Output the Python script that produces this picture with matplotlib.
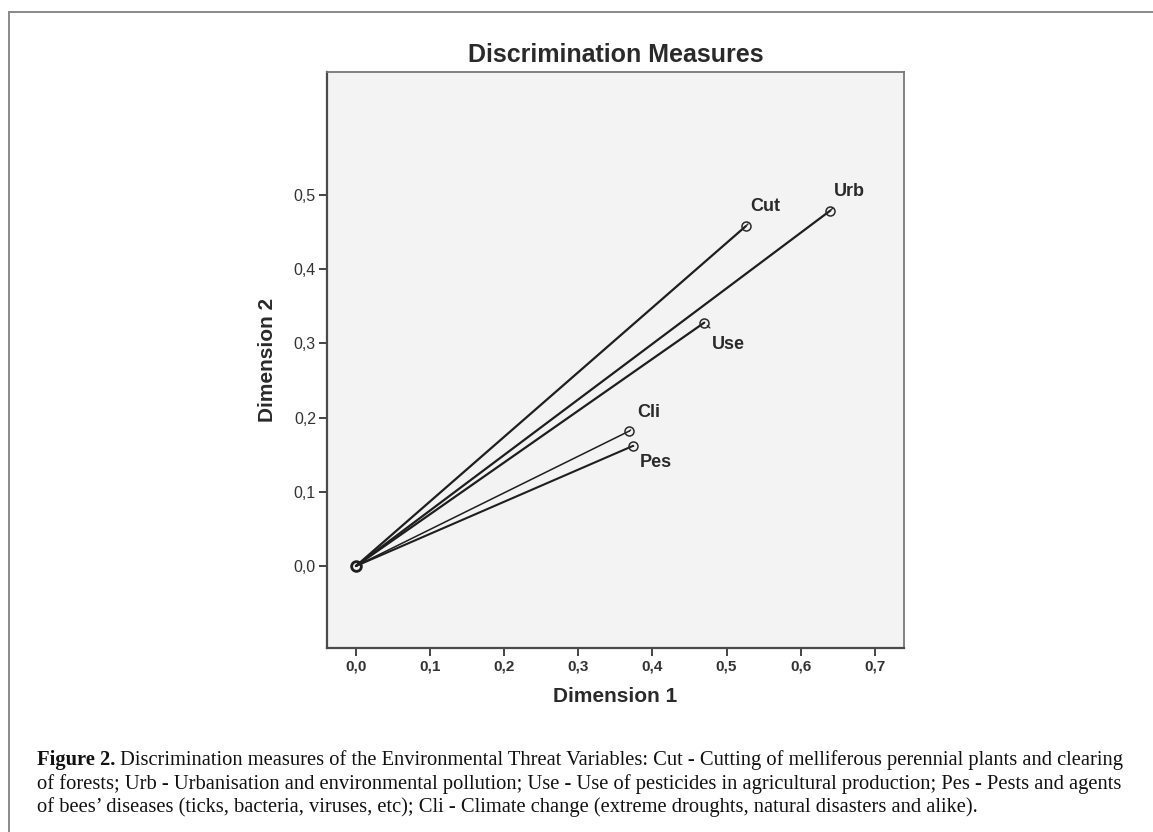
import matplotlib
matplotlib.use("Agg")
import matplotlib.pyplot as plt
from matplotlib.lines import Line2D

# ---- data ----
labels = ["Cut", "Urb", "Use", "Cli", "Pes"]
dim1 = [0.526, 0.640, 0.470, 0.369, 0.374]
dim2 = [0.458, 0.479, 0.328, 0.182, 0.162]
line_widths = [1.6, 1.6, 1.6, 1.1, 1.5]
label_offsets = [(14, 14), (14, 14), (17, -16), (14, 13), (16, -12)]
xticks = [0.0, 0.1, 0.2, 0.3, 0.4, 0.5, 0.6, 0.7]
yticks = [0.0, 0.1, 0.2, 0.3, 0.4, 0.5]
title = "Discrimination Measures"
xlabel = "Dimension 1"
ylabel = "Dimension 2"
caption_bold = "Figure 2."
caption_lines = [
    " Discrimination measures of the Environmental Threat Variables: Cut - Cutting of melliferous perennial plants and clearing",
    "of forests; Urb - Urbanisation and environmental pollution; Use - Use of pesticides in agricultural production; Pes - Pests and agents",
    "of bees\u2019 diseases (ticks, bacteria, viruses, etc); Cli - Climate change (extreme droughts, natural disasters and alike).",
]

W, H = 1153, 832
fig = plt.figure(figsize=(W / 100, H / 100), dpi=100)
fig.patch.set_facecolor("white")

sans = ["Liberation Sans", "DejaVu Sans"]
serif = ["Liberation Serif", "DejaVu Serif"]

# outer frame (top and left edges)
fig.add_artist(Line2D([9 / W, 1.0], [1 - 12 / H, 1 - 12 / H], color="#8a8a8a", lw=1.4))
fig.add_artist(Line2D([9 / W, 9 / W], [1 - 12 / H, 0.0], color="#8a8a8a", lw=1.4))

ax = fig.add_axes([327 / W, 1 - 648 / H, (904 - 327) / W, (648 - 72) / H])
ax.set_facecolor("#f3f3f3")
ax.set_xlim(-0.0391, 0.7395)
ax.set_ylim(-0.1105, 0.6658)

for x, y, lw in zip(dim1, dim2, line_widths):
    ax.plot([0, x], [0, y], color="#1e1e1e", lw=lw, solid_capstyle="round", zorder=2)
    ax.plot([x], [y], marker="o", ms=6.5, mfc="none", mec="#2a2a2a", mew=1.1, zorder=3)
ax.plot([0], [0], marker="o", ms=7, mfc="none", mec="#1e1e1e", mew=2.0, zorder=3)

for lab, x, y, (dx, dy) in zip(labels, dim1, dim2, label_offsets):
    ax.annotate(lab, xy=(x, y), xytext=(dx, dy), textcoords="offset points",
                ha="center", va="center", fontsize=13, fontweight="bold",
                family=sans, color="#2a2a2a",
                arrowprops=dict(arrowstyle="-", color="#2a2a2a", lw=1.0,
                                shrinkA=6, shrinkB=3))

ax.set_xticks(xticks)
ax.set_xticklabels([f"{v:.1f}".replace(".", ",") for v in xticks],
                   fontsize=11, fontweight="bold", family=sans, color="#333333")
ax.set_yticks(yticks)
ax.set_yticklabels([f"{v:.1f}".replace(".", ",") for v in yticks],
                   fontsize=11.5, family=sans, color="#333333")
ax.tick_params(axis="both", direction="out", length=6, width=1.4, color="#444444", pad=2)

for side, sp in ax.spines.items():
    sp.set_color("#4a4a4a" if side in ("left", "bottom") else "#777777")
    sp.set_linewidth(1.6 if side in ("left", "bottom") else 1.3)

ax.set_xlabel(xlabel, fontsize=15, fontweight="bold", family=sans, color="#2a2a2a", labelpad=10)
ax.set_ylabel(ylabel, fontsize=15, fontweight="bold", family=sans, color="#2a2a2a", labelpad=12)
ax.set_title(title, fontsize=18, fontweight="bold", family=sans, color="#2a2a2a", pad=7)

# caption
fig.canvas.draw()
renderer = fig.canvas.get_renderer()
x0_px, x1_px = 37, 1127
ys = [760, 784, 807]

def width_px(t):
    return t.get_window_extent(renderer).width

fs = 14.0
tb = fig.text(x0_px / W, 1 - ys[0] / H, caption_bold, fontsize=fs, fontweight="bold",
              family=serif, va="center", ha="left", color="#111111")
tr = fig.text(0, 1 - ys[0] / H, caption_lines[0], fontsize=fs, family=serif,
              va="center", ha="left", color="#111111")
total = width_px(tb) + width_px(tr)
fs = fs * (x1_px - x0_px) / total
tb.set_fontsize(fs)
tr.set_fontsize(fs)
bw = width_px(tb)
tr.set_x((x0_px + bw) / W)
for line, y in zip(caption_lines[1:], ys[1:]):
    fig.text(x0_px / W, 1 - y / H, line, fontsize=fs, family=serif,
             va="center", ha="left", color="#111111")

fig.savefig("out.png", dpi=100, facecolor="white")
